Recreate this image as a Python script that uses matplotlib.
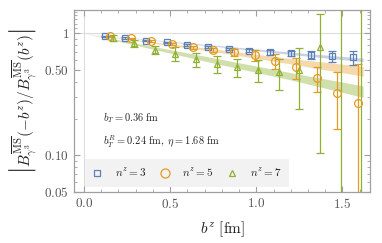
import matplotlib
matplotlib.use("Agg")
import matplotlib.pyplot as plt
from matplotlib.ticker import FixedLocator, FixedFormatter, NullFormatter
import numpy as np

plt.rcParams['mathtext.fontset'] = 'cm'
plt.rcParams['font.family'] = ['DejaVu Serif']

# lattice separations (fm), z = 1..13
bz = [0.12, 0.24, 0.36, 0.48, 0.60, 0.72, 0.84, 0.96, 1.08, 1.20, 1.32, 1.44, 1.56]
shift = {"3": 0.0, "5": 0.03, "7": 0.05}

ratio_n3 = [0.945, 0.913, 0.870, 0.840, 0.805, 0.775, 0.746, 0.719, 0.696, 0.683, 0.663, 0.645, 0.633]
err_n3 = [0.010, 0.010, 0.010, 0.012, 0.014, 0.016, 0.018, 0.022, 0.028, 0.035, 0.050, 0.065, 0.085]

ratio_n5 = [0.945, 0.910, 0.857, 0.815, 0.765, 0.728, 0.696, 0.658, 0.595, 0.525, 0.430, 0.325, 0.270]
err_n5 = [0.010, 0.012, 0.015, 0.020, 0.022, 0.030, 0.040, 0.070, 0.083, 0.100, 0.100, 0.160, 0.290]

ratio_n7 = [0.920, 0.825, 0.730, 0.680, 0.610, 0.560, 0.530, 0.500, 0.480, 0.500, 0.775, 1.900, 2.200]
err_n7 = [0.050, 0.050, 0.050, 0.085, 0.085, 0.090, 0.090, 0.100, 0.135, 0.260, 0.670, 2.000, 2.500]

# fitted bands (lower, upper) read at a few b^z values
band_b = [0.0, 0.4, 0.8, 1.2, 1.62]
band_n3_lo = [1.0, 0.875, 0.770, 0.670, 0.585]
band_n3_hi = [1.0, 0.885, 0.790, 0.700, 0.625]
band_n5_lo = [1.0, 0.830, 0.690, 0.560, 0.445]
band_n5_hi = [1.0, 0.850, 0.730, 0.620, 0.535]
band_n7_lo = [1.0, 0.740, 0.550, 0.415, 0.298]
band_n7_hi = [1.0, 0.780, 0.610, 0.475, 0.370]

labels = [r"$n^z=3$", r"$n^z=5$", r"$n^z=7$"]
colors = ["#5e81b5", "#e19c24", "#8fb032"]
band_colors = ["#bccbe3", "#f5d29f", "#c8da9c"]
markers = ["s", "o", "^"]

fig = plt.figure(figsize=(3.82, 2.43), dpi=100)
ax = fig.add_axes([0.1937, 0.2099, 0.7749, 0.7489])
ax.set_yscale("log")
ax.set_xlim(-0.058, 1.66)
ax.set_ylim(0.05, 1.55)

# Mathematica-like axes lines
ax.axhline(1.0, color="#dddddd", lw=0.8, zorder=0)
ax.axvline(0.0, color="#dddddd", lw=0.8, zorder=0)

bands = [(band_n3_lo, band_n3_hi), (band_n5_lo, band_n5_hi), (band_n7_lo, band_n7_hi)]
for (lo, hi), c in zip(bands[::-1], band_colors[::-1]):
    ax.fill_between(band_b, lo, hi, color=c, lw=0, alpha=0.85, zorder=1)

series = [(ratio_n3, err_n3, "3"), (ratio_n5, err_n5, "5"), (ratio_n7, err_n7, "7")]
handles = []
for (vals, errs, key), c, m, lab in zip(series, colors, markers, labels):
    x = np.array(bz) + shift[key]
    ax.errorbar(x, vals, yerr=errs, fmt="none", ecolor=c, elinewidth=0.9,
                capsize=2.6, capthick=0.9, zorder=3)
    ax.plot(x, vals, ls="none", marker=m, ms=5.0 if m != "o" else 5.6,
            mfc="none", mec=c, mew=0.9, zorder=4)
    h, = ax.plot([], [], ls="none", marker=m, ms=4.5 if m != "o" else 6.5,
                 mfc="none", mec=c, mew=0.9)
    handles.append(h)

leg = ax.legend(handles, labels, ncol=3, loc="lower left",
                bbox_to_anchor=(0.037, 0.027), frameon=True, fontsize=8,
                handlelength=0.8, handletextpad=1.2, columnspacing=1.25,
                borderpad=0.7, borderaxespad=0.0, fancybox=False)
leg.get_frame().set_facecolor("#f2f2f2")
leg.get_frame().set_edgecolor("none")
leg.get_frame().set_alpha(1.0)
for t in leg.get_texts():
    t.set_color("#222222")

ax.text(0.097, 0.405, r"$b_T = 0.36\ \mathrm{fm}$", transform=ax.transAxes,
        fontsize=7.5, va="center", ha="left", color="#222222")
ax.text(0.097, 0.273, r"$b_T^R = 0.24\ \mathrm{fm},\ \eta = 1.68\ \mathrm{fm}$",
        transform=ax.transAxes, fontsize=7.5, va="center", ha="left", color="#222222")

# ticks
xt = [0.0, 0.5, 1.0, 1.5]
ax.xaxis.set_major_locator(FixedLocator(xt))
ax.xaxis.set_major_formatter(FixedFormatter([r"$%.1f$" % v for v in xt]))
ax.xaxis.set_minor_locator(FixedLocator(np.arange(-0.0, 1.66, 0.1)))
yt = [0.05, 0.10, 0.50, 1.0]
ax.yaxis.set_major_locator(FixedLocator(yt))
ax.yaxis.set_major_formatter(FixedFormatter([r"$0.05$", r"$0.10$", r"$0.50$", r"$1$"]))
ymin = [0.06, 0.07, 0.08, 0.09, 0.2, 0.3, 0.4, 0.6, 0.7, 0.8, 0.9, 1.1, 1.2, 1.3, 1.4, 1.5]
ax.yaxis.set_minor_locator(FixedLocator(ymin))
ax.yaxis.set_minor_formatter(NullFormatter())

frame_c = "#a0a0a0"
for s in ax.spines.values():
    s.set_color(frame_c)
    s.set_linewidth(0.9)
ax.tick_params(which="both", direction="in", top=True, right=True, color=frame_c,
               labelcolor="#555555", labelsize=9.5)
ax.tick_params(which="major", length=4, width=0.8)
ax.tick_params(which="minor", length=2, width=0.6)

ax.set_xlabel(r"$b^z\ [\mathrm{fm}]$", fontsize=11, color="#222222", labelpad=6)
ax.set_ylabel(r"$\left|B^{\overline{\rm MS}}_{\gamma^3}(-b^z)/B^{\overline{\rm MS}}_{\gamma^3}(b^z)\right|$",
              fontsize=11, color="#222222", labelpad=4)

fig.savefig("out.png", dpi=100)
